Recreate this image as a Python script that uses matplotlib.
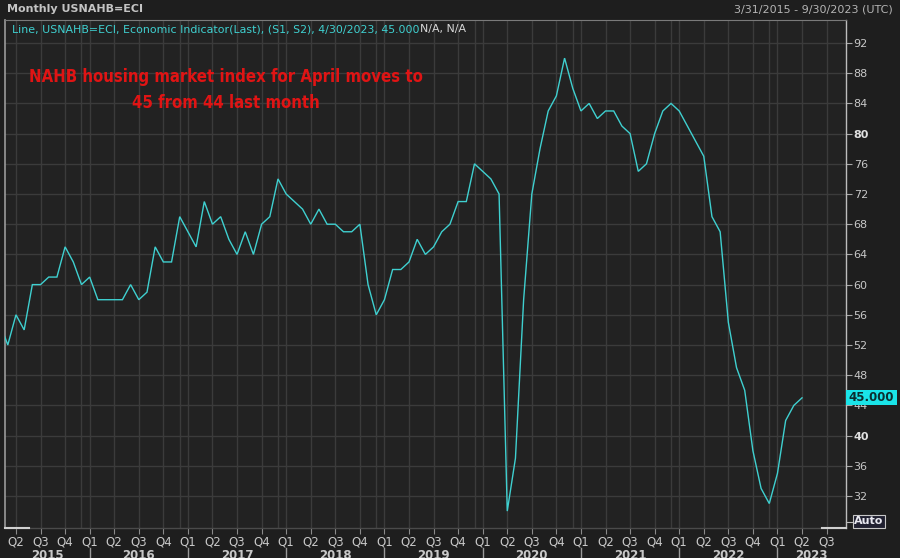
import numpy as np
import matplotlib
matplotlib.use("Agg")
import matplotlib.pyplot as plt
from matplotlib.lines import Line2D
from matplotlib.patches import Rectangle
from matplotlib import font_manager as fm

# ---------------- data ----------------
first_month = 1          # month index of first value, 0 = Jan 2015
values = [55, 52, 56, 54, 60, 60, 61, 61, 65, 63, 60,          # 2015 Feb-Dec
          61, 58, 58, 58, 58, 60, 58, 59, 65, 63, 63, 69,      # 2016
          67, 65, 71, 68, 69, 66, 64, 67, 64, 68, 69, 74,      # 2017
          72, 71, 70, 68, 70, 68, 68, 67, 67, 68, 60, 56,      # 2018
          58, 62, 62, 63, 66, 64, 65, 67, 68, 71, 71, 76,      # 2019
          75, 74, 72, 30, 37, 58, 72, 78, 83, 85, 90, 86,      # 2020
          83, 84, 82, 83, 83, 81, 80, 75, 76, 80, 83, 84,      # 2021
          83, 81, 79, 77, 69, 67, 55, 49, 46, 38, 33, 31,      # 2022
          35, 42, 44, 45]                                      # 2023 Jan-Apr
years = [2015, 2016, 2017, 2018, 2019, 2020, 2021, 2022, 2023]
y_ticks = [32, 36, 40, 44, 48, 52, 56, 60, 64, 68, 72, 76, 80, 84, 88, 92]
last_label = "45.000"
header_left = "Monthly USNAHB=ECI"
header_right = "3/31/2015 - 9/30/2023 (UTC)"
legend_main = "Line, USNAHB=ECI, Economic Indicator(Last), (S1, S2), 4/30/2023, 45.000"
legend_tail = "N/A, N/A"
note_lines = ["NAHB housing market index for April moves to", "45 from 44 last month"]

# ---------------- style ----------------
BG = "#1e1e1e"
PLOT_BG = "#222222"
GRID = "#3b3b3b"
LINE = "#3fd0d0"
TXT = "#c8c8c8"


def find_condensed_bold():
    prefs = ["LiberationSansNarrow-Bold", "DejaVuSansCondensed-Bold", "OpenSans_Condensed-Bold",
             "OpenSansCondensed-Bold", "RobotoCondensed-Bold", "NotoSans-CondensedBold"]
    files = [f.fname for f in fm.fontManager.ttflist]
    for p in prefs:
        for fn in files:
            if p.lower() in fn.lower().replace(" ", ""):
                return fm.FontProperties(fname=fn)
    for f in fm.fontManager.ttflist:
        w = f.weight if isinstance(f.weight, int) else 400
        if ("condensed" in str(f.stretch) or "narrow" in f.fname.lower()) and (
                w >= 600 or "bold" in f.fname.lower()):
            return fm.FontProperties(fname=f.fname)
    return fm.FontProperties(family="DejaVu Sans", weight="bold")


W, H = 900, 558
fig = plt.figure(figsize=(W / 100, H / 100), dpi=100, facecolor=BG)
L, R, T, B = 5, 846, 20, 528
ax = fig.add_axes([L / W, 1 - B / H, (R - L) / W, (B - T) / H], facecolor=PLOT_BG)

x = first_month + np.arange(len(values))
xmin, xmax = 1.66, 104.37
ymin, ymax = 27.76, 95.05
ax.set_xlim(xmin, xmax)
ax.set_ylim(ymin, ymax)

# gridlines
q_months = list(range(3, 103, 3))
dec_months = [11 + 12 * k for k in range(9)]
for m in q_months + dec_months:
    if xmin < m < xmax:
        ax.axvline(m, color=GRID, lw=1.0, zorder=1)
for v in y_ticks:
    ax.axhline(v, color=GRID, lw=1.0, zorder=1)

ax.plot(x, values, color=LINE, lw=1.0, zorder=3, solid_joinstyle="miter")

# spines
ax.spines["top"].set_color("#7a7a7a")
ax.spines["top"].set_linewidth(0.8)
ax.spines["left"].set_color("#9a9a9a")
ax.spines["left"].set_linewidth(1.2)
ax.spines["right"].set_color("#bdbdbd")
ax.spines["right"].set_linewidth(1.0)
ax.spines["bottom"].set_color("#4a4a4a")
ax.spines["bottom"].set_linewidth(1.0)
ax.add_line(Line2D([0, 0.028], [0, 0], transform=ax.transAxes, color="#d0d0d0", lw=1.5, clip_on=False, zorder=5))
ax.add_line(Line2D([0.972, 1], [0, 0], transform=ax.transAxes, color="#d0d0d0", lw=1.5, clip_on=False, zorder=5))

# y axis on right
ax.yaxis.tick_right()
ax.set_yticks(y_ticks)
ax.set_yticklabels([str(v) for v in y_ticks])
ax.tick_params(axis="y", which="both", direction="out", length=4, width=0.8,
               colors="#a8a8a8", labelcolor=TXT, labelsize=8, pad=1.5)
for lab in ax.get_yticklabels():
    if lab.get_text() in ("80", "40"):
        lab.set_fontweight("bold")
        lab.set_color("#e0e0e0")

# x axis: quarter labels
qm = [m for m in q_months if xmin < m < xmax]
ax.set_xticks(qm)
ax.set_xticklabels([f"Q{(m % 12) // 3 + 1}" for m in qm])
ax.tick_params(axis="x", direction="out", length=4, width=0.8, colors="#8a8a8a",
               labelcolor=TXT, labelsize=8.5, pad=1.5)

# year labels and separators
px = lambda m: L + (m - xmin) / (xmax - xmin) * (R - L)
for yr in years:
    s = (yr - 2015) * 12
    e = s + 12
    a, b = max(s, xmin), min(e, xmax)
    cx = px((a + b) / 2) / W
    fig.text(cx, 1 - 549 / H, str(yr), ha="center", va="top", color=TXT,
             fontsize=8.5, fontweight="bold")
    if s > xmin:
        xx = px(s) / W
        fig.add_artist(Line2D([xx, xx], [1 - 548 / H, 0], color="#9a9a9a", lw=1.0))

# headers
fig.text(7 / W, 1 - 9.5 / H, header_left, ha="left", va="center", color="#c4c4c4",
         fontsize=8, fontweight="bold")
fig.text(893 / W, 1 - 10 / H, header_right, ha="right", va="center", color="#b4b4b4",
         fontsize=8)
t1 = fig.text(12 / W, 1 - 29 / H, legend_main, ha="left", va="center", color=LINE,
              fontsize=7.9)
fig.canvas.draw()
bb = t1.get_window_extent()
fig.text(bb.x1 / W, 1 - 29 / H, legend_tail, ha="left", va="center", color="#d8d8d8",
         fontsize=7.9)

# red annotation, sized to fit reference width
fp = find_condensed_bold()
fp.set_size(14)
probe = fig.text(0, 0, note_lines[0], fontproperties=fp)
fig.canvas.draw()
wpx = probe.get_window_extent().width
probe.remove()
size = 14 * 397.0 / wpx
fp.set_size(size)
fig.text(226 / W, 1 - 77 / H, note_lines[0], ha="center", va="center", color="#e01414",
         fontproperties=fp)
fig.text(226 / W, 1 - 103 / H, note_lines[1], ha="center", va="center", color="#e01414",
         fontproperties=fp)

# last value tag
yv = values[-1]
yfig = 1 - B / H + (yv - ymin) / (ymax - ymin) * (B - T) / H
fig.patches.append(Rectangle((846 / W, yfig - 7.5 / H), 51 / W, 15 / H, transform=fig.transFigure,
                             facecolor="#1ae4e8", edgecolor="none", zorder=10))
fig.text(871 / W, yfig, last_label, ha="center", va="center", color="#0c2e30",
         fontsize=8.5, fontweight="bold", zorder=11)

# Auto box
fig.patches.append(Rectangle((853 / W, 1 - 528 / H), 32 / W, 13 / H, transform=fig.transFigure,
                             facecolor="#202030", edgecolor="#c8c8c8", lw=0.8, zorder=10))
fig.text(869 / W, 1 - 521.5 / H, "Auto", ha="center", va="center", color="#e8e8f0",
         fontsize=8, fontweight="bold", zorder=11)
fig.add_artist(Line2D([846 / W, 853 / W], [1 - 522 / H, 1 - 522 / H], color="#bdbdbd", lw=0.8))

fig.savefig("out.png", dpi=100, facecolor=BG)
